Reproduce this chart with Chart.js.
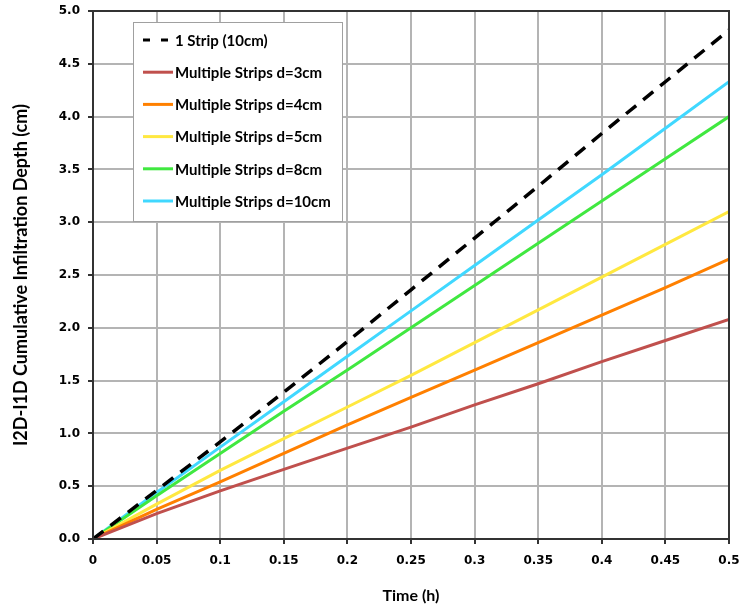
<!DOCTYPE html>
<html><head><meta charset="utf-8">
<script src="https://cdn.jsdelivr.net/npm/chart.js@4/dist/chart.umd.min.js"></script>
<style>html,body{margin:0;padding:0;background:#fff}#wrap{width:739px;height:609px}</style>
</head><body><div id="wrap"><canvas id="c" width="739" height="609"></canvas></div>
<script>
const timeH = [0, 0.05, 0.1, 0.15, 0.2, 0.25, 0.3, 0.35, 0.4, 0.45, 0.5];
const strip1 = [0, 0.46, 0.92, 1.39, 1.87, 2.36, 2.85, 3.34, 3.84, 4.33, 4.82];
const d3 = [0, 0.24, 0.455, 0.66, 0.86, 1.06, 1.27, 1.47, 1.68, 1.88, 2.08];
const d4 = [0, 0.28, 0.54, 0.81, 1.08, 1.34, 1.60, 1.86, 2.12, 2.38, 2.65];
const d5 = [0, 0.33, 0.65, 0.95, 1.25, 1.55, 1.86, 2.17, 2.48, 2.79, 3.10];
const d8 = [0, 0.41, 0.81, 1.21, 1.60, 2.00, 2.40, 2.80, 3.20, 3.60, 4.00];
const d10 = [0, 0.44, 0.87, 1.30, 1.73, 2.16, 2.59, 3.02, 3.45, 3.89, 4.33];
const seriesLabels = ["1 Strip (10cm)", "Multiple Strips d=3cm", "Multiple Strips d=4cm", "Multiple Strips d=5cm", "Multiple Strips d=8cm", "Multiple Strips d=10cm"];
const seriesValues = [strip1, d3, d4, d5, d8, d10];
const seriesColors = ["#000000", "#c0504d", "#ff8000", "#ffe840", "#40e840", "#40d8ff"];

const datasets = seriesValues.map((vals, i) => ({
  label: seriesLabels[i],
  data: vals.map((v, j) => ({x: timeH[j], y: v})),
  borderColor: seriesColors[i],
  backgroundColor: seriesColors[i],
  borderWidth: i === 0 ? 3.5 : 3,
  borderDash: i === 0 ? [13, 9] : [],
  pointRadius: 0,
  tension: 0,
  fill: false
}));

const legendPlugin = {
  id: 'boxLegend',
  afterDatasetsDraw(chart) {
    const ctx = chart.ctx;
    const x0 = 133, y0 = 22, w = 209, h = 199;
    ctx.save();
    ctx.fillStyle = '#fff';
    ctx.fillRect(x0, y0, w, h);
    ctx.strokeStyle = '#a0a0a0';
    ctx.lineWidth = 1;
    ctx.strokeRect(x0 + 0.5, y0 + 0.5, w, h);
    ctx.font = 'bold 15px Lato, "Open Sans", sans-serif';
    ctx.textBaseline = 'middle';
    chart.data.datasets.forEach((ds, i) => {
      const y = 40 + i * 32.2;
      ctx.beginPath();
      ctx.strokeStyle = ds.borderColor;
      ctx.lineWidth = 3;
      ctx.setLineDash(ds.borderDash && ds.borderDash.length ? [7, 11] : []);
      ctx.moveTo(143, y);
      ctx.lineTo(173, y);
      ctx.stroke();
      ctx.setLineDash([]);
      ctx.fillStyle = '#000';
      ctx.fillText(ds.label, 175, y + 1);
    });
    ctx.restore();
  }
};

const borderPlugin = {
  id: 'plotBorder',
  afterDatasetsDraw(chart) {
    const a = chart.chartArea, ctx = chart.ctx;
    ctx.save();
    ctx.strokeStyle = '#333';
    ctx.lineWidth = 2;
    ctx.strokeRect(a.left, a.top, a.right - a.left, a.bottom - a.top);
    ctx.restore();
  }
};

new Chart(document.getElementById('c'), {
  type: 'line',
  data: { datasets },
  options: {
    responsive: false,
    animation: false,
    layout: { padding: { left: 0, top: 11, right: 10, bottom: 0 } },
    plugins: { legend: { display: false }, tooltip: { enabled: false } },
    scales: {
      x: {
        type: 'linear', min: 0, max: 0.5,
        afterFit: s => { s.height = 70; s.paddingLeft = 0; s.paddingRight = 0; },
        ticks: { stepSize: 0.05, color: '#000', padding: 10,
          font: { family: '"DejaVu Sans", Verdana, sans-serif', weight: 'bold', size: 12 },
          callback: v => String(Number(v.toFixed(2))), maxRotation: 0 },
        grid: { color: '#b4b4b4', lineWidth: 2, drawTicks: true, tickLength: 5, tickColor: '#333' },
        border: { display: false },
        title: { display: true, text: 'Time (h)', color: '#000', padding: { top: 17 },
          font: { family: 'Lato, "Open Sans", sans-serif', weight: 'bold', size: 16 } }
      },
      y: {
        min: 0, max: 5,
        afterFit: s => { s.width = 93; s.paddingTop = 0; s.paddingBottom = 0; },
        ticks: { stepSize: 0.5, color: '#000', padding: 8,
          font: { family: '"DejaVu Sans", Verdana, sans-serif', weight: 'bold', size: 12 },
          callback: v => v.toFixed(1) },
        grid: { color: '#b4b4b4', lineWidth: 2, drawTicks: true, tickLength: 5, tickColor: '#333' },
        border: { display: false },
        title: { display: true, text: 'I2D-I1D Cumulative Infiltration Depth (cm)', color: '#000',
          padding: { top: 10, bottom: 4 },
          font: { family: 'Lato, "Open Sans", sans-serif', weight: 'bold', size: 18 } }
      }
    }
  },
  plugins: [borderPlugin, legendPlugin]
});
</script></body></html>
